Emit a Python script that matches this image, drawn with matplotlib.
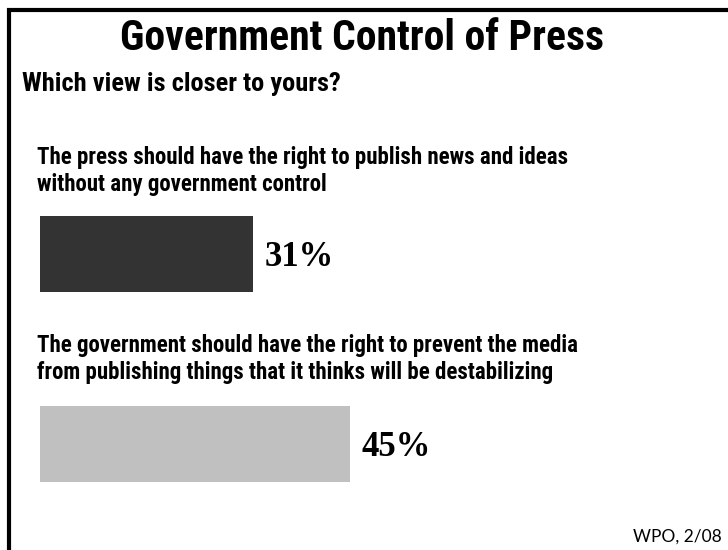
import matplotlib
matplotlib.use("Agg")
import matplotlib.pyplot as plt
from matplotlib.lines import Line2D

# data
title = "Government Control of Press"
subtitle = "Which view is closer to yours?"
questions = [
    "The press should have the right to publish news and ideas\nwithout any government control",
    "The government should have the right to prevent the media\nfrom publishing things that it thinks will be destabilizing",
]
values = [31, 45]
bar_colors = ["#333333", "#c0c0c0"]
source = "WPO, 2/08"

W, H = 728, 550
SANS = ["Roboto Condensed", "Lato"]
SERIF = ["Liberation Serif", "DejaVu Serif"]


def fx(px):
    return px / W


def fy(py):
    return 1 - py / H


fig = plt.figure(figsize=(W / 100, H / 100), dpi=100)
fig.patch.set_facecolor("white")

# frame: top and left rules only
fig.add_artist(Line2D([fx(7), 1], [fy(10), fy(10)], color="black", lw=3, solid_capstyle="butt"))
fig.add_artist(Line2D([fx(9), fx(9)], [fy(8), 0], color="black", lw=3, solid_capstyle="butt"))

fig.text(fx(362), fy(39), title, ha="center", va="center",
         fontsize=30, fontweight="bold", family=SANS)
fig.text(fx(22), fy(84), subtitle, ha="left", va="center",
         fontsize=19, fontweight="bold", family=SANS)

q_y = [171, 359]
for q, y in zip(questions, q_y):
    fig.text(fx(37), fy(y), q, ha="left", va="center", fontsize=16.5,
             fontweight="bold", family=SANS, linespacing=1.2)

# bars
ax = fig.add_axes([fx(40), fy(482), fx(728 - 40), (482 - 216) / H])
ypos = list(range(len(values)))
ax.barh(ypos, values, height=0.4, color=bar_colors)
ax.set_xlim(0, 100)
ax.set_ylim(1.2, -0.2)
ax.axis("off")
for y, v in zip(ypos, values):
    ax.text(v + 1.7, y + 0.02, f"{v}%", ha="left", va="center", fontsize=25,
            fontweight="bold", family=SERIF)

fig.text(fx(722), fy(537), source, ha="right", va="center", fontsize=12.5, family="Lato")

fig.savefig("out.png", dpi=100)
